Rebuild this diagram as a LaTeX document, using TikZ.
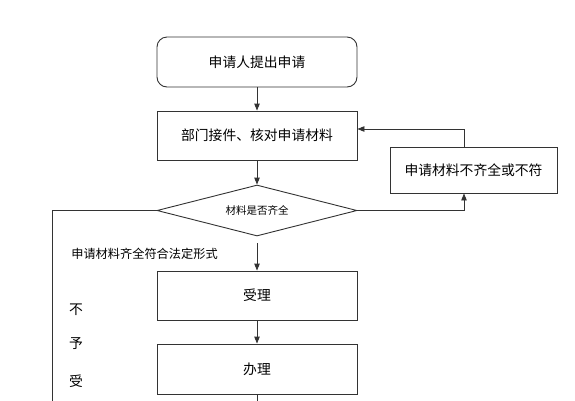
\documentclass[tikz,border=0pt]{standalone}
\usepackage{fontspec}
\setmainfont{Noto Sans CJK SC}
\usetikzlibrary{arrows.meta,shapes.geometric}
\begin{document}
\begin{tikzpicture}[x=1pt,y=-1pt,
  every node/.style={font=\fontsize{13.8}{15}\selectfont},
  line/.style={draw=black!80,line width=0.9pt},
  box/.style={line,rectangle,minimum width=200pt,minimum height=49pt,inner sep=0pt},
  rbox/.style={box,rounded corners=10pt,minimum height=50pt},
  dia/.style={line,diamond,shape aspect=3.9,minimum width=200pt,minimum height=51pt,inner sep=0pt,font=\fontsize{10.5}{12}\selectfont},
  arr/.style={line,-{Triangle[length=7pt,width=5.5pt]}},
  lbl/.style={inner sep=0pt}]
\useasboundingbox (0,0) rectangle (575,400);
\fill[white] (0,0) rectangle (575,400);

\node[rbox] (apply) at (257,62) {申请人提出申请};
\node[box] (check) at (257,135.5) {部门接件、核对申请材料};
\node[dia] (judge) at (257,210.5) {材料是否齐全};
\node[box,minimum width=167pt,minimum height=46pt] (fix) at (473.5,170) {申请材料不齐全或不符};
\node[box] (accept) at (257,295.5) {受理};
\node[box,minimum height=50pt] (handle) at (257,369) {办理};

\node[lbl,font=\fontsize{12.2}{13}\selectfont] (ok) at (144.5,254) {申请材料齐全符合法定形式};
\node[lbl] (n1) at (76,310) {不};
\node[lbl] (n2) at (76,344) {予};
\node[lbl] (n3) at (76,381) {受};

\coordinate (lx) at (464,0);
\coordinate (ly) at (0,129);
\coordinate (a1) at (257,243);
\coordinate (lb) at (52,405);
\coordinate (hb) at (257,405);

\draw[arr] (apply) -- (check);
\draw[arr] (check) -- (judge);
\draw[arr] (a1) -- (accept);
\draw[arr] (accept) -- (handle);
\draw[line] (handle) -- (hb);
\draw[arr] (judge.east) -| (lx |- fix.south);
\draw[arr] (lx |- fix.north) |- (check.east |- ly);
\draw[line] (judge.west) -| (lb);
\end{tikzpicture}
\end{document}
